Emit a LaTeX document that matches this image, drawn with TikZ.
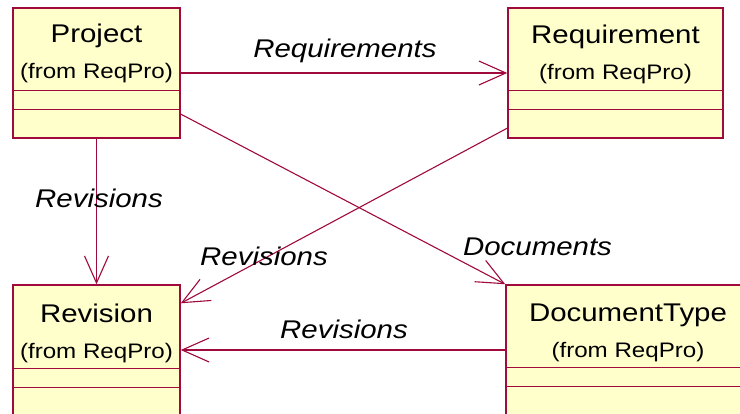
\documentclass[tikz,border=0pt]{standalone}
\usepackage{fontspec}
\setmainfont[FakeStretch=1.15]{Liberation Sans}
\usetikzlibrary{arrows.meta,calc}

\definecolor{umlline}{RGB}{160,10,60}
\definecolor{umlfill}{RGB}{255,255,204}

\tikzset{
  classbox/.style={draw=umlline, fill=umlfill, line width=1.5pt, inner sep=0pt,
    minimum height=130pt},
  compline/.style={draw=umlline, line width=1pt},
  cname/.style={anchor=base, inner sep=0pt, font=\fontsize{25.6}{28}\selectfont},
  cpkg/.style={anchor=base, inner sep=0pt, font=\fontsize{21}{24}\selectfont},
  role/.style={anchor=base, inner sep=0pt, font=\fontsize{25.6}{28}\selectfont\itshape},
  assoc/.style={draw=umlline, line width=1.1pt,
    -{Straight Barb[length=27pt, width=24pt, line width=1.1pt]}},
}

\begin{document}
\begin{tikzpicture}[x=1pt, y=-1pt]
\useasboundingbox (0,0) rectangle (740,413);
\clip (0,0) rectangle (740,413);
\fill[white] (0,0) rectangle (740,413);

% class boxes
\node[classbox, minimum width=167pt] (proj) at (96.5,73) {};
\node[classbox, minimum width=215pt] (req)  at (615.5,73) {};
\node[classbox, minimum width=167pt] (rev)  at (96.5,350) {};
\node[classbox, minimum width=244pt] (doc)  at (628,350) {};

% compartment separators
\foreach \b/\a/\c in {proj/83/102, req/83/102, rev/84/103, doc/83/102}{
  \draw[compline] ($(\b.north west)+(0,\a)$) -- ($(\b.north east)+(0,\a)$);
  \draw[compline] ($(\b.north west)+(0,\c)$) -- ($(\b.north east)+(0,\c)$);
}

% class names
\node[cname] (projname) at (96.5,42.5) {Project};
\node[cpkg]  (projpkg)  at (96.5,78) {(from ReqPro)};
\node[cname] (reqname)  at (615.5,43.3) {Requirement};
\node[cpkg]  (reqpkg)   at (615.5,79) {(from ReqPro)};
\node[cname] (revname)  at (96.5,322.5) {Revision};
\node[cpkg]  (revpkg)   at (96.5,358.5) {(from ReqPro)};
\node[cname] (docname)  at (628,321.7) {DocumentType};
\node[cpkg]  (docpkg)   at (628,357.5) {(from ReqPro)};

% associations
\draw[assoc] (proj.east) -- (req.west);
\draw[assoc] (proj.south) -- (rev.north);
\draw[assoc] (proj.-26.7) -- (doc.north west);
\draw[assoc] (req.207.5) -- (rev.29.4);
\draw[assoc] (doc.west) -- (rev.east);

% role names
\node[role] (lreq)  at (345,57) {Requirements};
\node[role] (lrev1) at (99,207.7) {Revisions};
\node[role] (lrev2) at (264,265) {Revisions};
\node[role] (ldoc)  at (537.5,255) {Documents};
\node[role] (lrev3) at (344,338.3) {Revisions};
\end{tikzpicture}
\end{document}
